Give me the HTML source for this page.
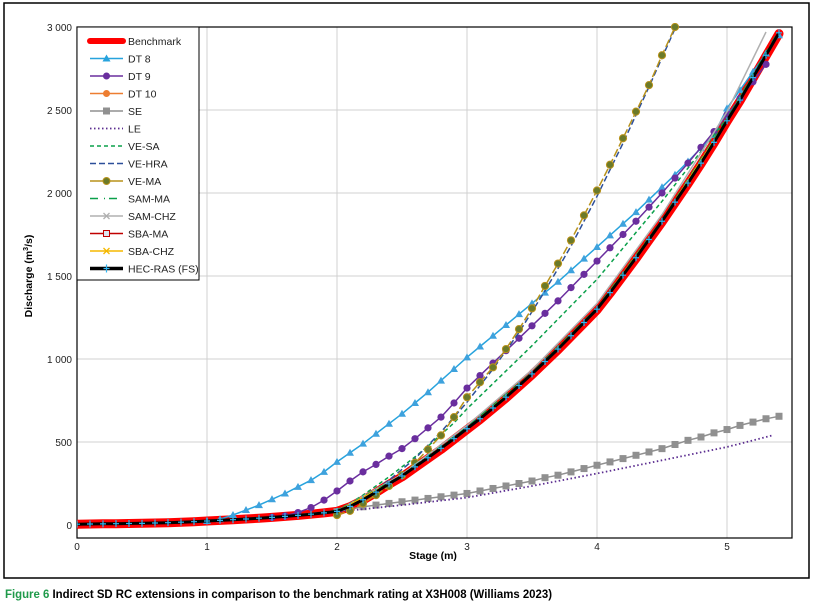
<!DOCTYPE html>
<html><head><meta charset="utf-8"><style>
body{margin:0;background:#fff}
svg{display:block;font-family:"Liberation Sans",sans-serif}
</style></head><body>
<svg id="c" width="813" height="611"></svg>
<script>
const stage=[0,0.1,0.2,0.3,0.4,0.5,0.6,0.7,0.8,0.9,1.0,1.1,1.2,1.3,1.4,1.5,1.6,1.7,1.8,1.9,2.0,2.1,2.2,2.3,2.4,2.5,2.6,2.7,2.8,2.9,3.0,3.1,3.2,3.3,3.4,3.5,3.6,3.7,3.8,3.9,4.0,4.1,4.2,4.3,4.4,4.5,4.6,4.7,4.8,4.9,5.0,5.1,5.2,5.3,5.4];
const benchmark=[5,6,7,8,9,10,12,14,17,20,24,28,32,36,41,46,52,58,65,73,82,110,150,195,245,290,345,400,455,515,575,635,700,765,835,905,980,1055,1135,1215,1295,1395,1500,1605,1715,1825,1940,2055,2175,2300,2430,2555,2690,2825,2960];
const hecras=[5,6,7,8,9,10,12,14,17,20,24,28,32,36,41,46,52,58,65,73,82,112,152,198,248,295,350,405,462,520,580,640,705,770,840,910,985,1060,1140,1220,1300,1400,1505,1610,1720,1830,1945,2060,2180,2305,2435,2560,2695,2830,2965];
const dt8X=[1.0,1.1,1.2,1.3,1.4,1.5,1.6,1.7,1.8,1.9,2.0,2.1,2.2,2.3,2.4,2.5,2.6,2.7,2.8,2.9,3.0,3.1,3.2,3.3,3.4,3.5,3.6,3.7,3.8,3.9,4.0,4.1,4.2,4.3,4.4,4.5,4.6,4.7,4.8,4.9,5.0,5.1,5.2,5.3,5.4];
const dt8=[24,35,60,90,120,155,190,230,270,320,380,435,490,550,610,670,735,800,870,940,1010,1075,1140,1205,1270,1335,1400,1465,1535,1605,1675,1745,1815,1885,1960,2035,2110,2190,2270,2350,2510,2620,2730,2840,2950];
const dt9X=[1.5,1.6,1.7,1.8,1.9,2.0,2.1,2.2,2.3,2.4,2.5,2.6,2.7,2.8,2.9,3.0,3.1,3.2,3.3,3.4,3.5,3.6,3.7,3.8,3.9,4.0,4.1,4.2,4.3,4.4,4.5,4.6,4.7,4.8,4.9,5.0,5.1,5.2,5.3];
const dt9=[46,55,75,105,150,205,265,320,365,415,460,520,585,650,735,825,900,975,1050,1125,1200,1275,1350,1430,1510,1590,1670,1750,1830,1915,2000,2090,2180,2275,2370,2470,2570,2670,2775];
const seX=[2.0,2.1,2.2,2.3,2.4,2.5,2.6,2.7,2.8,2.9,3.0,3.1,3.2,3.3,3.4,3.5,3.6,3.7,3.8,3.9,4.0,4.1,4.2,4.3,4.4,4.5,4.6,4.7,4.8,4.9,5.0,5.1,5.2,5.3,5.4];
const se=[80,95,110,120,130,140,150,160,170,180,190,205,220,235,250,265,285,300,320,340,360,380,400,420,440,460,485,510,530,555,575,600,620,640,655];
const leX=[2.0,2.2,2.5,3.0,3.5,4.0,4.5,5.0,5.35];
const le=[80,95,120,165,235,310,390,470,540];
const vesaX=[1.9,2.0,2.1,2.2,2.3,2.4,2.5,2.6,2.7,2.8,2.9,3.0,3.5,4.0,4.5,5.0,5.4];
const vesa=[73,90,130,180,235,290,350,410,475,545,615,700,1080,1480,1950,2450,2960];
const vehraX=[2.0,2.2,2.4,2.6,2.8,3.0,3.2,3.4,3.6,3.8,4.0,4.2,4.4,4.6];
const vehra=[80,160,270,400,560,740,940,1160,1410,1680,1980,2300,2640,2990];
const vemaX=[2.0,2.1,2.2,2.3,2.4,2.5,2.6,2.7,2.8,2.9,3.0,3.1,3.2,3.3,3.4,3.5,3.6,3.7,3.8,3.9,4.0,4.1,4.2,4.3,4.4,4.5,4.6];
const vema=[60,85,130,180,235,300,375,455,540,650,770,860,950,1060,1180,1305,1440,1575,1715,1865,2015,2170,2330,2490,2650,2830,3000];
const nearX=[0,0.5,1.0,1.5,2.0,2.5,3.0,3.5,4.0,4.5,5.0,5.4];
const dt10=[5,10,24,46,82,290,575,905,1295,1825,2430,2960];
const sammaX=[0,0.5,1.0,1.5,2.0,2.5,3.0,3.5,4.0,4.5,5.0,5.4];
const samma=[5,10,24,46,85,300,590,920,1310,1840,2450,2980];
const samchzX=[0,0.5,1.0,1.5,2.0,2.5,3.0,3.5,4.0,4.5,5.0,5.3];
const samchz=[5,10,24,46,85,305,600,935,1335,1870,2490,2970];
const sbama=[5,10,24,46,82,292,578,908,1300,1830,2435,2965];
const sbachz=[5,10,24,46,82,294,580,912,1305,1835,2440,2970];
const xTicks=[0,1,2,3,4,5];
const yTicks=[0,500,1000,1500,2000,2500,3000];
const yTickLabels=["0","500","1 000","1 500","2 000","2 500","3 000"];

const svg=document.getElementById('c');
const NS='http://www.w3.org/2000/svg';
const X0=77,X1=792,Y0=27,Yb=538;
const sx=v=>77+v*130;
const sy=v=>525-v*(498/3000);
function mk(t,a,p){const e=document.createElementNS(NS,t);for(const k in a)e.setAttribute(k,a[k]);(p||svg).appendChild(e);return e;}

const frame=mk('rect',{x:4,y:3,width:805,height:575,fill:'none',stroke:'#000','stroke-width':1.5});


const gridG=mk('g',{});


xTicks.forEach(t=>{if(t>0)mk('line',{x1:sx(t),x2:sx(t),y1:Y0,y2:Yb,stroke:'#d0d0d0','stroke-width':1},gridG);});
yTicks.forEach(t=>{if(t>0)mk('line',{x1:X0,x2:X1,y1:sy(t),y2:sy(t),stroke:'#d0d0d0','stroke-width':1},gridG);});
const pb=mk('rect',{x:X0,y:Y0,width:X1-X0,height:Yb-Y0,fill:'none',stroke:'#000','stroke-width':1.2});



xTicks.forEach(t=>{const e=mk('text',{x:sx(t),y:Yb+12,'font-size':10,'text-anchor':'middle',fill:'#222'});e.textContent=t;

});
yTicks.forEach((t,i)=>{const e=mk('text',{x:72,y:sy(t)+4,'font-size':10,'text-anchor':'end',fill:'#222'});e.textContent=yTickLabels[i];

});
const xl=mk('text',{x:433,y:559,'font-size':10.5,'font-weight':'bold','text-anchor':'middle'});xl.textContent='Stage (m)';


const yl=mk('text',{x:0,y:0,'font-size':10.5,'font-weight':'bold','text-anchor':'middle',transform:'translate(32,276) rotate(-90)'});yl.innerHTML='Discharge (m<tspan font-size="7" dy="-4">3</tspan><tspan dy="4">/s)</tspan>';



const clip=mk('clipPath',{id:'pc'});mk('rect',{x:X0,y:Y0-4,width:X1-X0,height:Yb-Y0+4},clip);
const G=mk('g',{'clip-path':'url(#pc)'});
function line(xs,ys,st,name){const d=xs.map((x,i)=>(i?'L':'M')+sx(x).toFixed(1)+','+sy(ys[i]).toFixed(1)).join('');
const e=mk('path',Object.assign({d:d,fill:'none','stroke-linejoin':'round'},st),G);

return e;}
function markers(xs,ys,type,col,name){const g=mk('g',{},G);


xs.forEach((x,i)=>{const cx=sx(x),cy=sy(ys[i]);
if(type==='tri')mk('path',{d:`M${cx},${cy-4}L${cx+4},${cy+3}L${cx-4},${cy+3}Z`,fill:col},g);
else if(type==='circ')mk('circle',{cx:cx,cy:cy,r:3.6,fill:col},g);
else if(type==='olive'){mk('circle',{cx:cx,cy:cy,r:3.6,fill:'#6b7a2a',stroke:'#b8921a','stroke-width':1},g);}
else if(type==='sq')mk('rect',{x:cx-3.5,y:cy-3.5,width:7,height:7,fill:col},g);
else if(type==='plus'){mk('path',{d:`M${cx-3},${cy}H${cx+3}M${cx},${cy-3.5}V${cy+3.5}`,stroke:col,'stroke-width':1.2},g);}
});}

line(stage,benchmark,{stroke:'#ff0000','stroke-width':9,'stroke-linecap':'round'},'benchmark-line');
line(nearX,dt10,{stroke:'#ed7d31','stroke-width':1.5},'dt10-line');
line(seX,se,{stroke:'#909090','stroke-width':1.5},'se-line');
markers(seX,se,'sq','#909090','se-markers');
line(leX,le,{stroke:'#5b2d90','stroke-width':1.8,'stroke-dasharray':'1.5 2.5'},'le-line');
line(dt8X,dt8,{stroke:'#27a3dd','stroke-width':1.5},'dt8-line');
markers(dt8X,dt8,'tri','#3ea2dd','dt8-markers');
line(dt9X,dt9,{stroke:'#6a2e9e','stroke-width':1.5},'dt9-line');
markers(dt9X,dt9,'circ','#6a2e9e','dt9-markers');
line(vesaX,vesa,{stroke:'#0aa04a','stroke-width':1.5,'stroke-dasharray':'4 3'},'ve-sa-line');
line(vehraX,vehra,{stroke:'#2c4f9a','stroke-width':1.5,'stroke-dasharray':'6 3'},'ve-hra-line');
line(vemaX,vema,{stroke:'#b8921a','stroke-width':1.5,'stroke-dasharray':'8 3'},'ve-ma-line');
markers(vemaX,vema,'olive','','ve-ma-markers');
line(samchzX,samchz,{stroke:'#b0b0b0','stroke-width':1.5},'sam-chz-line');
line(sammaX,samma,{stroke:'#0aa04a','stroke-width':1.3,'stroke-dasharray':'7 3 1 3'},'sam-ma-line');
line(nearX,sbama,{stroke:'#c00000','stroke-width':1.3},'sba-ma-line');
line(nearX,sbachz,{stroke:'#f5b800','stroke-width':1.3},'sba-chz-line');
line(stage,hecras,{stroke:'#000','stroke-width':3},'hec-ras-line');
markers(stage,hecras,'plus','#2fb4ef','hec-ras-markers');

// legend
const L=mk('g',{});


mk('rect',{x:77,y:27,width:122,height:253,fill:'#fff',stroke:'#000','stroke-width':1},L);
const items=[['Benchmark','#ff0000',6,null,''],['DT 8','#27a3dd',1.5,'tri',''],['DT 9','#6a2e9e',1.5,'circ',''],['DT 10','#ed7d31',1.5,'circo',''],['SE','#909090',1.5,'sq',''],['LE','#5b2d90',1.8,null,'1.5 2.5'],['VE-SA','#0aa04a',1.5,null,'4 3'],['VE-HRA','#2c4f9a',1.5,null,'6 3'],['VE-MA','#b8921a',1.5,'olive',''],['SAM-MA','#0aa04a',1.5,null,'8 6 1 4'],['SAM-CHZ','#b0b0b0',1.5,'x',''],['SBA-MA','#c00000',1.5,'osq',''],['SBA-CHZ','#f5b800',1.5,'x',''],['HEC-RAS (FS)','#000',3.5,'plus','']];
items.forEach((it,i)=>{const y=41+i*17.5;const g=mk('g',{},L);


const ln=mk('line',{x1:90,x2:123,y1:y,y2:y,stroke:it[1],'stroke-width':it[2],'stroke-linecap':i===0?'round':'butt'},g);
if(it[4])ln.setAttribute('stroke-dasharray',it[4]);
const cx=106.5;
if(it[3]==='tri')mk('path',{d:`M${cx},${y-4}L${cx+4},${y+3}L${cx-4},${y+3}Z`,fill:it[1]},g);
if(it[3]==='circ')mk('circle',{cx:cx,cy:y,r:3.5,fill:it[1]},g);
if(it[3]==='circo')mk('circle',{cx:cx,cy:y,r:3.5,fill:it[1]},g);
if(it[3]==='sq')mk('rect',{x:cx-3.5,y:y-3.5,width:7,height:7,fill:it[1]},g);
if(it[3]==='olive')mk('circle',{cx:cx,cy:y,r:3.5,fill:'#6b7a2a',stroke:'#b8921a'},g);
if(it[3]==='osq')mk('rect',{x:cx-3,y:y-3,width:6,height:6,fill:'#dde6f0',stroke:it[1]},g);
if(it[3]==='x')mk('path',{d:`M${cx-3},${y-3}L${cx+3},${y+3}M${cx-3},${y+3}L${cx+3},${y-3}`,stroke:it[1],'stroke-width':1.3},g);
if(it[3]==='plus')mk('path',{d:`M${cx-3},${y}H${cx+3}M${cx},${y-4}V${y+4}`,stroke:'#2fb4ef','stroke-width':1.2},g);
const t=mk('text',{x:128,y:y+4,'font-size':10.5,fill:'#222'},g);t.textContent=it[0];
});

const cap=mk('text',{x:5,y:598,'font-size':12,'font-weight':'bold',textLength:547,lengthAdjust:'spacingAndGlyphs'});
cap.innerHTML='<tspan fill="#1f9a4a">Figure 6</tspan> Indirect SD RC extensions in comparison to the benchmark rating at X3H008 (Williams 2023)';


</script>
</body></html>
